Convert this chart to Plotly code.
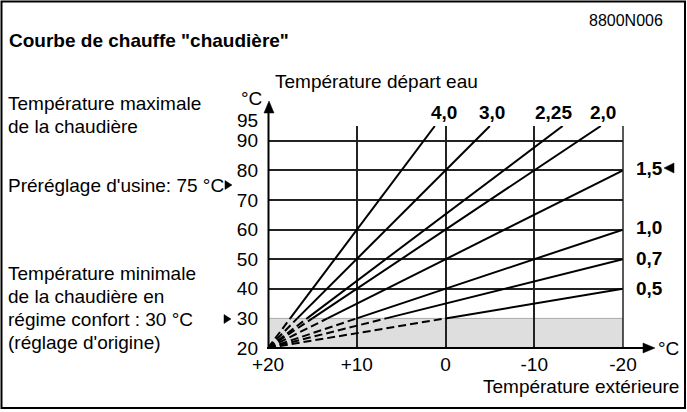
import plotly.graph_objects as go

# ---------------- data ----------------
outside_ticks = [20, 10, 0, -10, -20]
outside_tick_text = ["+20", "+10", "0", "-10", "-20"]
flow_ticks = [20, 30, 40, 50, 60, 70, 80, 90]
flow_tick_text = ["20", "30", "40", "50", "60", "70", "80", "90"]
flow_grid = [40, 50, 60, 70, 80, 90, 95]
flow_max = 95
flow_min = 20
comfort_min = 30
outside_min = -20
outside_max = 20

curve_names = ["4,0", "3,0", "2,25", "2,0", "1,5", "1,0", "0,7", "0,5"]
origin_x = 20
origin_y = 20
knee_x = [17.5, 16.7, 15.6, 15.0, 13.3, 10.0, 6.7, 0.0]   # where each curve reaches 30 °C
end_x = [1.2, -5.0, -13.2, -17.5, -20.0, -20.0, -20.0, -20.0]
end_y = [95, 95, 95, 95, 80, 60, 50, 40]

# ---------------- layout helpers (pixel -> paper) ----------------
W, H = 687, 412
PL, PR, PT, PB = 268, 623, 126, 348
def px(x):
    return (x - PL) / (PR - PL)
def py(y):
    return (PB - y) / (PB - PT)

FONT = "Liberation Sans, Arial, sans-serif"
GRID = "#222222"

fig = go.Figure()

for i, name in enumerate(curve_names):
    fig.add_trace(go.Scatter(
        x=[origin_x, knee_x[i]], y=[origin_y, comfort_min], mode="lines",
        line=dict(color="black", width=2, dash="8px,4px"),
        hoverinfo="skip", showlegend=False))
    fig.add_trace(go.Scatter(
        x=[knee_x[i], end_x[i]], y=[comfort_min, end_y[i]], mode="lines",
        line=dict(color="black", width=2),
        name=name, showlegend=False))

shapes = []
# shaded band below minimum comfort temperature
shapes.append(dict(type="rect", xref="x", yref="y", x0=outside_max, x1=outside_min,
                   y0=flow_min, y1=comfort_min, fillcolor="#dedede",
                   line=dict(color="#aaaaaa", width=1), layer="below"))
# right border of the grid (at -20 °C, right edge of the plot area)
shapes.append(dict(type="line", xref="paper", yref="paper", x0=1, x1=1,
                   y0=0, y1=1, line=dict(color=GRID, width=1.5)))

def tri(points):
    d = "M " + " L ".join(f"{px(a):.5f},{py(b):.5f}" for a, b in points) + " Z"
    return dict(type="path", xref="paper", yref="paper", path=d,
                fillcolor="black", line=dict(color="black", width=0.5))

# axes lines with arrows
shapes.append(dict(type="line", xref="paper", yref="paper",
                   x0=px(268.5), x1=px(268.5), y0=py(349), y1=py(110),
                   line=dict(color="black", width=2)))
shapes.append(tri([(269, 101), (264, 113), (274, 113)]))
shapes.append(dict(type="line", xref="paper", yref="paper",
                   x0=px(267), x1=px(646), y0=py(348), y1=py(348),
                   line=dict(color="black", width=2)))
shapes.append(tri([(655, 348), (643, 343), (643, 353)]))
# marker triangles
shapes.append(tri([(232, 185), (225, 180.5), (225, 189.5)]))
shapes.append(tri([(231, 319), (224, 314.5), (224, 323.5)]))
shapes.append(tri([(664, 168), (674, 163), (674, 173)]))
# outer frame
shapes.append(dict(type="rect", xref="paper", yref="paper",
                   x0=px(1.5), x1=px(685), y0=py(1.5), y1=py(408),
                   line=dict(color="black", width=2), fillcolor="rgba(0,0,0,0)"))

ann = []
def txt(s, x, y, anchor="left", size=19, bold=False):
    ann.append(dict(text=(f"<b>{s}</b>" if bold else s), x=px(x), y=py(y),
                    xref="paper", yref="paper", xanchor=anchor, yanchor="middle",
                    showarrow=False, font=dict(family=FONT, size=size, color="black")))

txt("8800N006", 665, 20, "right", size=16)
txt('Courbe de chauffe "chaudière"', 7, 41, "left", bold=True)
txt("Température départ eau", 273, 81, "left")
txt("°C", 264, 99, "right")
txt("95", 260, 120, "right")
txt("Température maximale", 6, 104, "left")
txt("de la chaudière", 6, 127, "left")
txt("Préréglage d'usine: 75 °C", 6, 185, "left")
txt("Température minimale", 6, 273, "left")
txt("de la chaudière en", 6, 296, "left")
txt("régime confort : 30 °C", 6, 319, "left")
txt("(réglage d'origine)", 6, 342, "left")
txt("°C", 681, 348, "right")
txt("Température extérieure", 681, 386, "right")

# curve labels
top_label_x = [444, 492, 553, 603]
for name, xx in zip(curve_names[:4], top_label_x):
    txt(name, xx, 112, "center", bold=True)
side_label_y = [168, 227, 258, 288]
for name, yy in zip(curve_names[4:], side_label_y):
    txt(name, 634, yy, "left", bold=True)

fig.update_layout(
    width=W, height=H,
    margin=dict(l=PL, r=W - PR, t=PT, b=H - PB, pad=0),
    paper_bgcolor="white", plot_bgcolor="white",
    font=dict(family=FONT, size=19, color="black"),
    shapes=shapes, annotations=ann, showlegend=False,
    xaxis=dict(range=[outside_max, outside_min], tickvals=outside_ticks,
               ticktext=outside_tick_text, showgrid=True, gridcolor=GRID,
               gridwidth=1.5, zeroline=False, showline=False, ticks="",
               ticklabelstandoff=3, tickfont=dict(size=19)),
    yaxis=dict(range=[flow_min, flow_max], tickvals=flow_ticks,
               ticktext=flow_tick_text, showgrid=False, zeroline=False,
               showline=False, ticks="", ticklabelstandoff=9,
               tickfont=dict(size=19),
               minor=dict(tickvals=flow_grid, showgrid=True, gridcolor=GRID,
                          gridwidth=1.5)),
)

fig.write_html("out.html")
